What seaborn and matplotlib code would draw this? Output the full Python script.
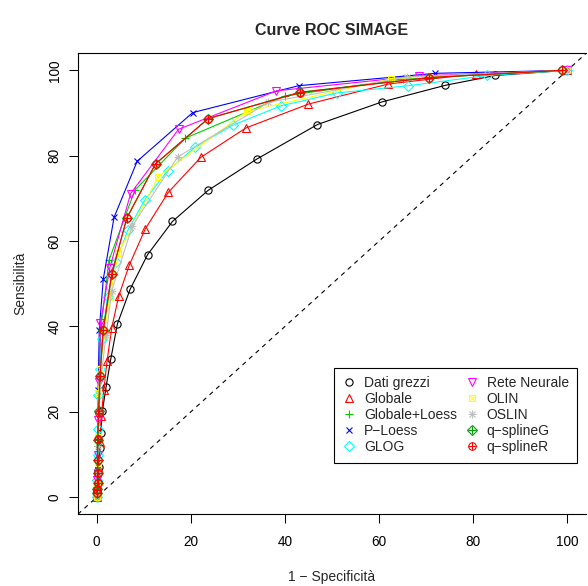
import pandas as pd
import matplotlib.pyplot as plt
import seaborn as sns
from matplotlib.lines import Line2D

# 1 - specificita (x) e sensibilita (y) per ogni metodo
grezzi_x = [0, 0.1, 0.3, 0.5, 0.7, 0.85, 1.2, 2.0, 3.0, 4.4, 7.1, 10.8, 16.1, 23.7, 34.0, 46.9, 60.6, 74.1, 84.7, 100]
grezzi_y = [0, 1.5, 3.5, 7, 11.5, 15.0, 20.1, 25.9, 32.4, 40.6, 48.7, 56.8, 64.6, 71.9, 79.2, 87.3, 92.6, 96.5, 98.8, 100]

globale_x = [0, 0.1, 0.3, 0.6, 1.0, 1.5, 2.2, 3.2, 4.7, 6.9, 10.3, 15.2, 22.1, 31.7, 45.0, 62.0, 80.6, 100]
globale_y = [0, 3, 7, 13, 19, 25, 31.9, 39.7, 47.2, 54.3, 62.8, 71.4, 79.6, 86.5, 92.1, 96.8, 99.2, 100]

gloess_x = [0, 0.1, 0.2, 0.3, 0.5, 0.9, 2.6, 8.1, 18.8, 40.0, 65.0, 100]
gloess_y = [0, 5, 12, 20, 28, 39.5, 55.5, 71.9, 84.1, 94.0, 98.0, 100]

ploess_x = [0, 0.1, 0.2, 0.3, 0.55, 1.4, 3.7, 8.6, 20.4, 42.9, 71.9, 100]
ploess_y = [0, 6, 14, 25, 39.2, 51.1, 65.6, 78.7, 90.1, 96.4, 99.3, 100]

glog_x = [0, 0.1, 0.2, 0.3, 0.35, 0.6, 1.1, 2.3, 4.0, 6.6, 10.2, 15.1, 20.9, 29.0, 39.2, 51.0, 66.2, 83.0, 100]
glog_y = [0, 4, 10, 16, 24, 30, 37, 47, 55, 62.5, 69.6, 76.5, 82.0, 87.2, 91.7, 94.7, 96.4, 98.8, 100]

rete_x = [0, 0.1, 0.2, 0.3, 0.5, 0.8, 2.8, 7.2, 17.4, 38.2, 68.5, 100]
rete_y = [0, 4, 10, 18, 27, 40.8, 53.8, 71.1, 86.2, 95.2, 98.7, 100]

olin_x = [0, 0.1, 0.2, 0.3, 0.35, 0.8, 1.5, 2.8, 4.6, 13.1, 31.9, 62.5, 100]
olin_y = [0, 3, 8, 14, 24.4, 30, 38, 47, 57.2, 75.1, 90.4, 98.0, 100]

oslin_x = [0, 0.1, 0.2, 0.3, 0.5, 0.9, 2.0, 3.2, 7.6, 17.2, 36.5, 66.0, 100]
oslin_y = [0, 2, 6, 12, 20, 28, 38, 48.4, 63.6, 79.7, 92.5, 98.5, 100]

qsg_x = [0, 0.1, 0.2, 0.2, 0.2, 0.25, 0.4, 0.7, 1.4, 3.2, 6.4, 12.5, 23.7, 43.2, 70.7, 98.8]
qsg_y = [0.9, 1.9, 3.3, 5.6, 8.7, 13.3, 20.1, 28.4, 39.2, 52.3, 65.4, 78.1, 88.7, 94.9, 98.3, 100]

qsr_x = [0, 0.1, 0.2, 0.2, 0.2, 0.2, 0.4, 0.7, 1.4, 3.2, 6.4, 12.5, 23.7, 43.2, 70.7, 98.8]
qsr_y = [0.9, 1.7, 3.3, 5.6, 8.7, 13.6, 19.7, 28.4, 39.2, 52.3, 65.4, 78.1, 88.7, 94.8, 98.3, 100]

nomi = ["Dati grezzi", "Globale", "Globale+Loess", "P\u2212Loess", "GLOG",
        "Rete Neurale", "OLIN", "OSLIN", "q\u2212splineG", "q\u2212splineR"]
serie_x = [grezzi_x, globale_x, gloess_x, ploess_x, glog_x, rete_x, olin_x, oslin_x, qsg_x, qsr_x]
serie_y = [grezzi_y, globale_y, gloess_y, ploess_y, glog_y, rete_y, olin_y, oslin_y, qsg_y, qsr_y]

colori = ["black", "#FF0000", "#00CD00", "#0000FF", "#00FFFF",
          "#FF00FF", "#FFFF00", "#BEBEBE", "#00A000", "#FF0000"]
# marker principale + eventuale sovrapposto (stile pch di R)
marker1 = ["o", "^", "+", "x", "D", "v", "s", "+", "D", "o"]
marker2 = [None, None, None, None, None, None, "x", "x", "+", "+"]
msize = [5.2, 5.8, 6.0, 5.0, 5.0, 5.8, 4.8, 6.0, 5.6, 5.4]

sns.set_style("ticks")
plt.rcParams['font.family'] = ['Liberation Sans', 'DejaVu Sans']

fig = plt.figure(figsize=(5.88, 5.86), dpi=100)
ax = fig.add_axes([0.1321, 0.1224, 0.8651, 0.7867])

ax.axline((0, 0), (1, 1), color="black", lw=0.8, ls=(0, (4, 4)), zorder=1)

handles = []
for i in range(len(nomi)):
    df = pd.DataFrame({"x": serie_x[i], "y": serie_y[i]})
    c = colori[i]
    sns.lineplot(data=df, x="x", y="y", ax=ax, color=c, lw=0.8, sort=False,
                 estimator=None, marker=marker1[i], markersize=msize[i],
                 markerfacecolor="none", markeredgecolor=c, markeredgewidth=0.8,
                 zorder=2 + i)
    h1 = Line2D([], [], ls="none", marker=marker1[i], markersize=msize[i],
                markerfacecolor="none", markeredgecolor=c, markeredgewidth=0.8)
    if marker2[i] is not None:
        ms2 = msize[i] * (0.75 if marker2[i] == "x" else 1.0)
        sns.lineplot(data=df, x="x", y="y", ax=ax, color=c, lw=0, sort=False,
                     estimator=None, marker=marker2[i], markersize=ms2,
                     markeredgecolor=c, markeredgewidth=0.8, zorder=2 + i)
        h2 = Line2D([], [], ls="none", marker=marker2[i], markersize=ms2,
                    markeredgecolor=c, markeredgewidth=0.8)
        handles.append((h1, h2))
    else:
        handles.append(h1)

ax.set_xlim(-4.04, 104.04)
ax.set_ylim(-4.0, 104.0)
ax.set_xticks(range(0, 101, 20))
ax.set_yticks(range(0, 101, 20))
ax.set_yticklabels([str(v) for v in range(0, 101, 20)], rotation=90, va="center")
ax.tick_params(direction="out", length=6.5, width=0.75, labelsize=9.8, colors="black")
ax.tick_params(axis="x", pad=8.5)
ax.tick_params(axis="y", pad=5)

for s in ["left", "bottom", "top"]:
    ax.spines[s].set_linewidth(0.8)
    ax.spines[s].set_color("black")
ax.spines["right"].set_visible(False)

ax.set_xlabel("1 \u2212 Specificit\u00e0", fontsize=10, va="center")
ax.xaxis.set_label_coords(0.5, -0.136)
ax.set_ylabel("Sensibilit\u00e0", fontsize=10, va="center")
ax.yaxis.set_label_coords(-0.113, 0.5)
ax.set_title("Curve ROC SIMAGE", fontsize=11.5, fontweight="bold", pad=13)

leg = ax.legend(handles, nomi, ncol=2, loc="upper left", bbox_to_anchor=(0.504, 0.318),
                fontsize=10, frameon=True, fancybox=False, framealpha=1,
                edgecolor="black", handlelength=1.0, handletextpad=0.55,
                labelspacing=0.15, columnspacing=0.6, borderpad=0.6, borderaxespad=0)
leg.get_frame().set_linewidth(0.8)

fig.savefig("out.png", dpi=100)
